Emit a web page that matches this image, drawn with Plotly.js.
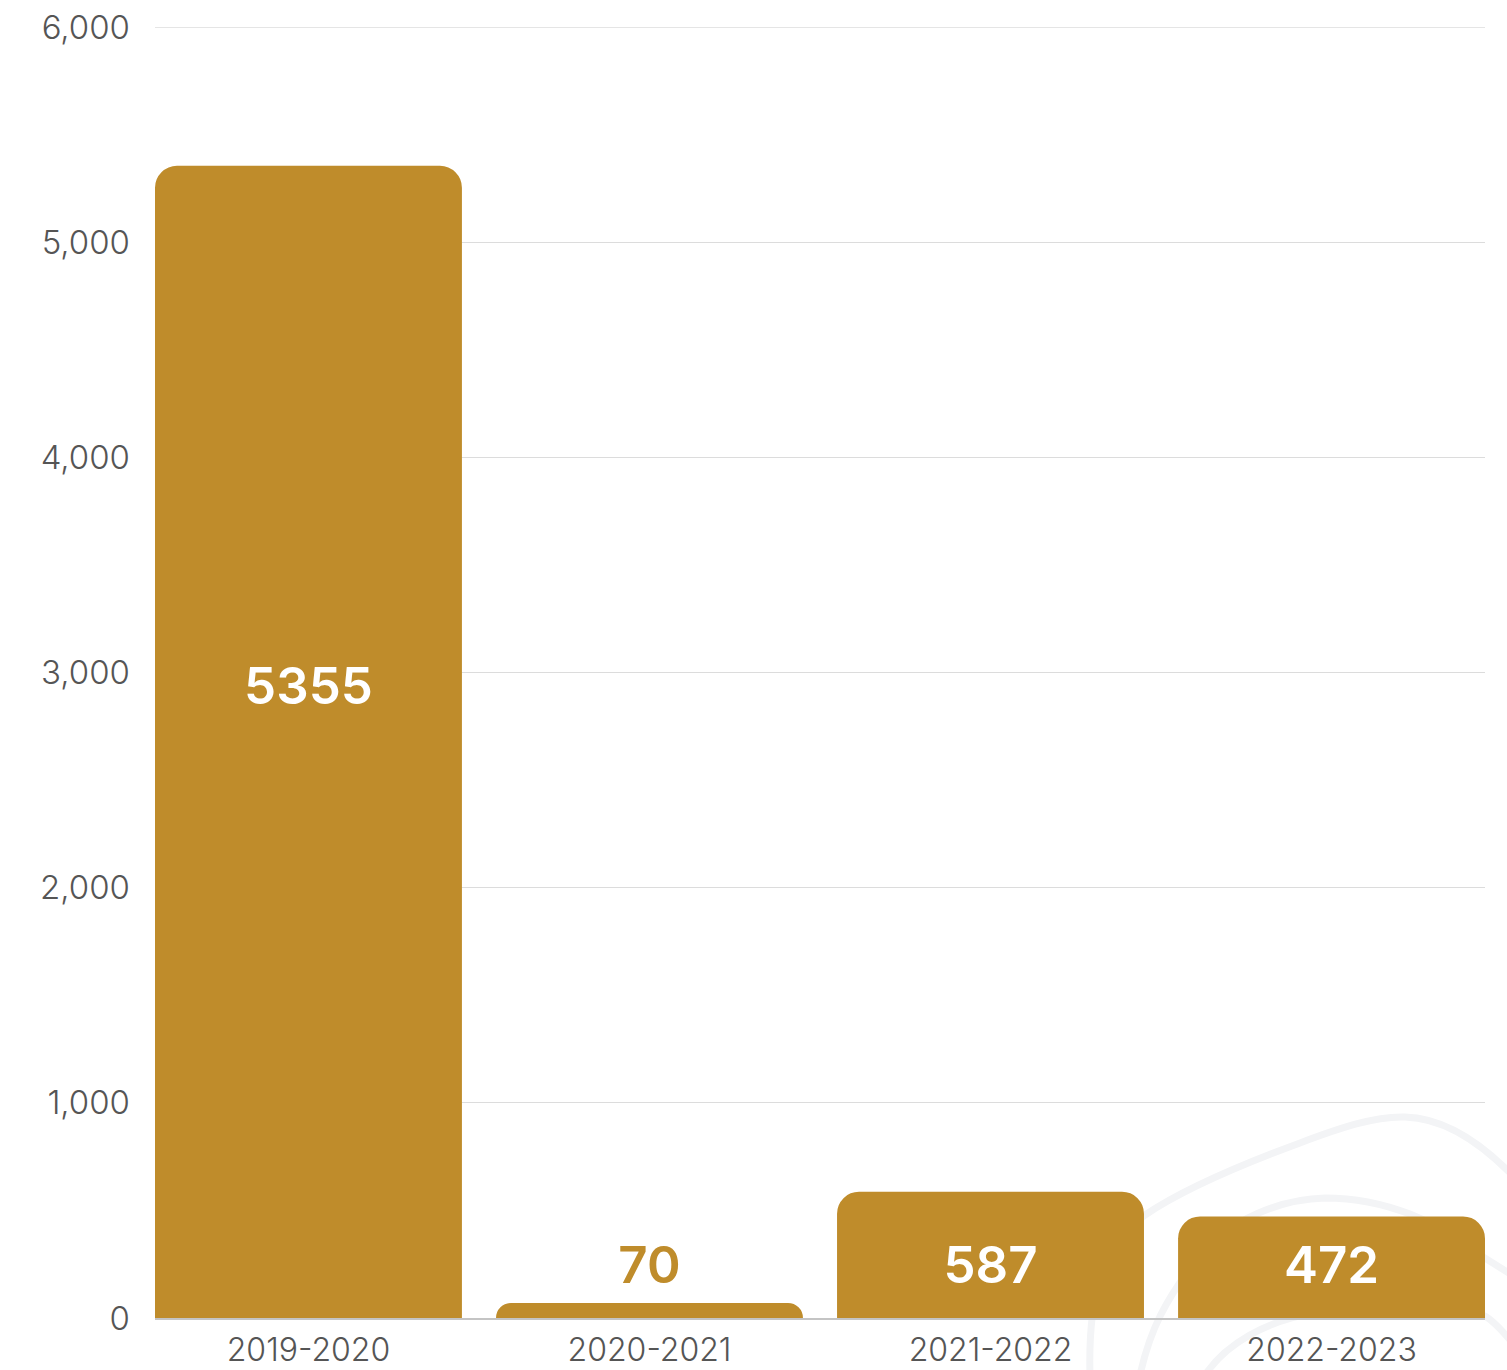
<!DOCTYPE html>
<html>
<head>
<meta charset="utf-8">
<script src="https://cdn.plot.ly/plotly-3.0.1.min.js"></script>
<style>
  html, body { margin: 0; padding: 0; background: #ffffff; }
  #chart { width: 1507px; height: 1370px; }
</style>
</head>
<body>
<div id="chart"></div>
<script>
// ---- data ----
const categories = ["2019-2020", "2020-2021", "2021-2022", "2022-2023"];
const values = [5355, 70, 587, 472];
const yTickValues = [0, 1000, 2000, 3000, 4000, 5000, 6000];
const yTickLabels = ["0", "1,000", "2,000", "3,000", "4,000", "5,000", "6,000"];

// ---- style ----
const GOLD = "#BF8C2B";
const W = 1507, H = 1370;
const M = { l: 155, r: 22, t: 27, b: 52 };
const PW = W - M.l - M.r, PH = H - M.t - M.b;

// label placement (style): big bars get label inside, small ones near the base
const labelY = values.map(v => v > 1000 ? v * 0.544 : 224);
const labelColor = values.map(v => v > 300 ? "#ffffff" : GOLD);

// decorative background curves (pixel coords -> paper)
function px(x) { return ((x - M.l) / PW).toFixed(4); }
function py(y) { return ((H - M.b - y) / PH).toFixed(4); }
function path(cmds) {
  return cmds.map(c => c[0] + " " + c.slice(1).map((v, i) => i % 2 === 0 ? px(v) : py(v)).join(" ")).join(" ");
}
const curveA = path([
  ["M", 1090, 1375],
  ["C", 1088, 1300, 1100, 1250, 1145, 1215],
  ["C", 1185, 1188, 1240, 1165, 1300, 1143],
  ["C", 1340, 1128, 1375, 1116, 1405, 1117],
  ["C", 1445, 1118, 1480, 1142, 1512, 1175]
]);
const curveB = path([
  ["M", 1140, 1375],
  ["C", 1150, 1330, 1165, 1300, 1200, 1255],
  ["C", 1230, 1220, 1280, 1199, 1325, 1198],
  ["C", 1385, 1198, 1440, 1222, 1480, 1255],
  ["L", 1512, 1275]
]);
const curveC = path([
  ["M", 1205, 1375],
  ["C", 1225, 1345, 1265, 1320, 1320, 1312],
  ["C", 1390, 1302, 1450, 1300, 1485, 1316],
  ["C", 1495, 1322, 1503, 1332, 1512, 1342]
]);
const curveStyle = { color: "#F3F4F6", width: 7 };
const shapes = [curveA, curveB, curveC].map(p => ({
  type: "path", xref: "paper", yref: "paper", path: p,
  line: curveStyle, layer: "below"
}));
// top gridline at the range edge (Plotly omits the grid line on the boundary)
shapes.push({
  type: "line", xref: "paper", yref: "y", x0: 0, x1: 1,
  y0: yTickValues[yTickValues.length - 1], y1: yTickValues[yTickValues.length - 1],
  line: { color: "#DCDCDC", width: 1.5 }, layer: "below"
});

const barTrace = {
  type: "bar",
  x: categories,
  y: values,
  marker: { color: GOLD, cornerradius: 22, line: { width: 0 } },
  hoverinfo: "x+y",
  showlegend: false
};

const labelTrace = {
  type: "scatter",
  mode: "text",
  x: categories,
  y: labelY,
  text: values.map(v => String(v)),
  textposition: "middle center",
  textfont: { family: "Inter, sans-serif", size: 51, weight: 600, color: labelColor },
  hoverinfo: "skip",
  showlegend: false,
  cliponaxis: false
};

const yTickFont = { family: "Inter, sans-serif", size: 33, weight: 300, color: "#555555" };
const xTickFont = { family: "Inter, sans-serif", size: 32, weight: 300, color: "#555555" };

const layout = {
  width: W, height: H,
  margin: M,
  paper_bgcolor: "rgba(0,0,0,0)",
  plot_bgcolor: "rgba(0,0,0,0)",
  bargap: 0.1,
  showlegend: false,
  font: { family: "Inter, sans-serif", color: "#555555" },
  xaxis: {
    type: "category",
    range: [-0.45, 3.45],
    showgrid: false,
    zeroline: false,
    showline: true,
    linecolor: "#C4C4C4",
    linewidth: 2,
    ticks: "",
    tickfont: xTickFont,
    ticklabelstandoff: 3,
    fixedrange: true
  },
  yaxis: {
    range: [0, 6000],
    tickvals: yTickValues,
    ticktext: yTickLabels,
    showgrid: true,
    gridcolor: "#DCDCDC",
    gridwidth: 1,
    zeroline: false,
    showline: false,
    ticks: "",
    tickfont: yTickFont,
    ticklabelstandoff: 24,
    fixedrange: true
  },
  shapes: shapes
};

Plotly.newPlot("chart", [barTrace, labelTrace], layout, { displayModeBar: false, staticPlot: true });
</script>
</body>
</html>
